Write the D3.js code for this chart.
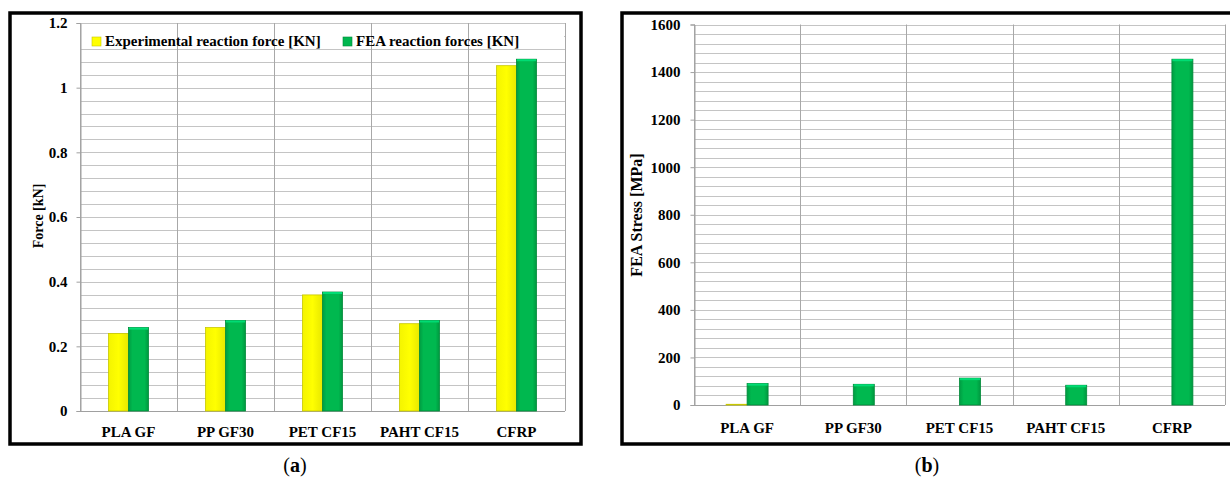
<!DOCTYPE html>
<html>
<head>
<meta charset="utf-8">
<script src="https://cdn.jsdelivr.net/npm/d3@7"></script>
<style>
	body { margin: 0; background: #fff; }
	svg { display: block; }
	text { font-family: "Liberation Serif", "Times New Roman", serif; font-weight: bold; fill: #000; }
</style>
</head>
<body>
<svg id="chart" width="1230" height="478"></svg>
<script>
var categories = ["PLA GF", "PP GF30", "PET CF15", "PAHT CF15", "CFRP"];

// panel (a)
var seriesNamesA = ["Experimental reaction force [KN]", "FEA reaction forces [KN]"];
var expForce = [0.24, 0.258, 0.359, 0.27, 1.068];
var feaForce = [0.258, 0.28, 0.368, 0.28, 1.088];
var forceTicks = [0, 0.2, 0.4, 0.6, 0.8, 1, 1.2];

// panel (b)
var expStress = [3, 0, 0, 0, 0];
var feaStress = [90, 87, 113, 83, 1454];
var stressTicks = [0, 200, 400, 600, 800, 1000, 1200, 1400, 1600];

var colors = ["#ffff00", "#00b74f"];

var svg = d3.select("#chart");

var defs = svg.append("defs");
var gY = defs.append("linearGradient").attr("id", "gYellow").attr("x1", 0).attr("x2", 1).attr("y1", 0).attr("y2", 0);
gY.append("stop").attr("offset", "0%").attr("stop-color", "#f4f400");
gY.append("stop").attr("offset", "50%").attr("stop-color", "#ffff00");
gY.append("stop").attr("offset", "100%").attr("stop-color", "#e8e800");
var gG = defs.append("linearGradient").attr("id", "gGreen").attr("x1", 0).attr("x2", 1).attr("y1", 0).attr("y2", 0);
gG.append("stop").attr("offset", "0%").attr("stop-color", "#009c42");
gG.append("stop").attr("offset", "20%").attr("stop-color", "#00b84f");
gG.append("stop").attr("offset", "80%").attr("stop-color", "#00b84f");
gG.append("stop").attr("offset", "100%").attr("stop-color", "#00983f");
var fills = ["url(#gYellow)", "url(#gGreen)"];
var edges = ["#c8c800", "#008a3a"];

function drawPanel(p) {
	var g = svg.append("g");

	// frame
	g.append("rect")
		.attr("x", p.frame[0]).attr("y", p.frame[1])
		.attr("width", p.frame[2]).attr("height", p.frame[3])
		.attr("fill", "none").attr("stroke", "#000").attr("stroke-width", 3.5);

	var y = d3.scaleLinear().domain([0, p.max]).range([p.bottom, p.top]);
	var x = d3.scaleBand().domain(categories).range([p.left, p.right]).paddingInner(0).paddingOuter(0);
	var half = x.bandwidth() / 2;
	var xs = d3.scaleBand().domain([0, 1]).range([half - p.barW, half + p.barW]);

	// horizontal grid (major + minor)
	var minor = d3.range(0, p.max + p.minorStep / 2, p.minorStep);
	g.selectAll(".hgrid")
		.data(minor)
	.enter().append("line")
		.attr("x1", p.left).attr("x2", p.right)
		.attr("y1", function(d) { return Math.round(y(d)) + 0.5; })
		.attr("y2", function(d) { return Math.round(y(d)) + 0.5; })
		.attr("stroke", "#c4c4c4").attr("stroke-width", 1);

	if (p.legend) {
		g.append("rect")
			.attr("x", p.left + 1).attr("y", p.legend.y - 13)
			.attr("width", p.right - p.left - 2).attr("height", 16)
			.attr("fill", "#fff");
	}

	// vertical grid at category edges
	var edgesX = categories.map(function(c) { return x(c); }).concat([p.right]);
	g.selectAll(".vgrid")
		.data(edgesX)
	.enter().append("line")
		.attr("x1", function(d) { return Math.round(d) + 0.5; })
		.attr("x2", function(d) { return Math.round(d) + 0.5; })
		.attr("y1", p.top).attr("y2", p.bottom)
		.attr("stroke", "#a8a8a8").attr("stroke-width", 1);

	// y axis
	var yAxis = d3.axisLeft(y).tickValues(p.ticks).tickSize(4).tickPadding(p.tickPad)
		.tickFormat(function(d) { return d3.format("")(d); });
	var ya = g.append("g").attr("transform", "translate(" + (p.left + 0.5) + ",0)").call(yAxis);
	ya.select(".domain").attr("stroke", "#a0a0a0");
	ya.selectAll(".tick line").attr("stroke", "#a0a0a0");
	ya.selectAll("text").style("font-size", "15px").style("font-family", "Liberation Serif").style("font-weight", "bold").attr("fill", "#000");

	// baseline
	g.append("line")
		.attr("x1", p.left).attr("x2", p.right)
		.attr("y1", p.bottom + 0.5).attr("y2", p.bottom + 0.5)
		.attr("stroke", "#a0a0a0");

	// bars
	p.series.forEach(function(vals, si) {
		var bar = g.selectAll(".bar" + si)
			.data(vals)
		.enter().append("g")
			.attr("transform", function(d, i) { return "translate(" + x(categories[i]) + ",0)"; });

		bar.append("rect")
			.attr("x", xs(si))
			.attr("y", function(d) { return y(d); })
			.attr("width", xs.bandwidth())
			.attr("height", function(d) { return p.bottom - y(d); })
			.attr("fill", fills[si])
			.attr("stroke", function(d) { return d > 0 ? edges[si] : "none"; })
			.attr("stroke-width", 0.8);

		if (si == 1) {
			bar.append("rect")
				.attr("x", xs(si) + 0.5)
				.attr("y", function(d) { return y(d); })
				.attr("width", xs.bandwidth() - 1)
				.attr("height", 2)
				.attr("fill", "#00dc74");
		}
	});

	// category labels
	g.selectAll(".xlab")
		.data(categories)
	.enter().append("text")
		.attr("x", function(d) { return x(d) + half; })
		.attr("y", p.labelY)
		.attr("text-anchor", "middle")
		.style("font-size", "15px")
		.text(function(d) { return d; });

	// y title
	g.append("text")
		.attr("transform", "translate(" + p.titleX + "," + p.titleY + ") rotate(-90)")
		.attr("text-anchor", "middle")
		.style("font-size", p.titleSize)
		.text(p.title);

	// legend
	if (p.legend) {
		p.legend.items.forEach(function(it, i) {
			g.append("rect")
				.attr("x", it.x).attr("y", p.legend.y - 9)
				.attr("width", 9).attr("height", 9)
				.attr("fill", colors[i]).attr("stroke", edges[i]).attr("stroke-width", 0.6);
			g.append("text")
				.attr("x", it.x + 13).attr("y", p.legend.y)
				.style("font-size", "15px")
				.text(seriesNamesA[i]);
		});
	}

	// caption
	var cap = g.append("text")
		.attr("x", p.capX).attr("y", 472)
		.attr("text-anchor", "middle")
		.style("font-size", "20px")
		.style("font-weight", "normal");
	cap.append("tspan").text("(");
	cap.append("tspan").style("font-weight", "bold").text(p.cap);
	cap.append("tspan").text(")");
}

drawPanel({
	frame: [10, 13, 571, 431],
	left: 80, right: 565, top: 23, bottom: 411,
	max: 1.2, minorStep: 0.04, ticks: forceTicks, tickPad: 9,
	barW: 20,
	series: [expForce, feaForce],
	labelY: 437,
	title: "Force [kN]", titleX: 43, titleY: 216, titleSize: "14px",
	legend: { y: 46, items: [{ x: 92 }, { x: 343 }] },
	capX: 295, cap: "a"
});

drawPanel({
	frame: [622, 13, 612, 431],
	left: 694, right: 1225, top: 24.5, bottom: 405,
	max: 1600, minorStep: 40, ticks: stressTicks, tickPad: 10,
	barW: 21,
	series: [expStress, feaStress],
	labelY: 433,
	title: "FEA Stress [MPa]", titleX: 642, titleY: 215, titleSize: "16px",
	legend: null,
	capX: 927, cap: "b"
});
</script>
</body>
</html>
